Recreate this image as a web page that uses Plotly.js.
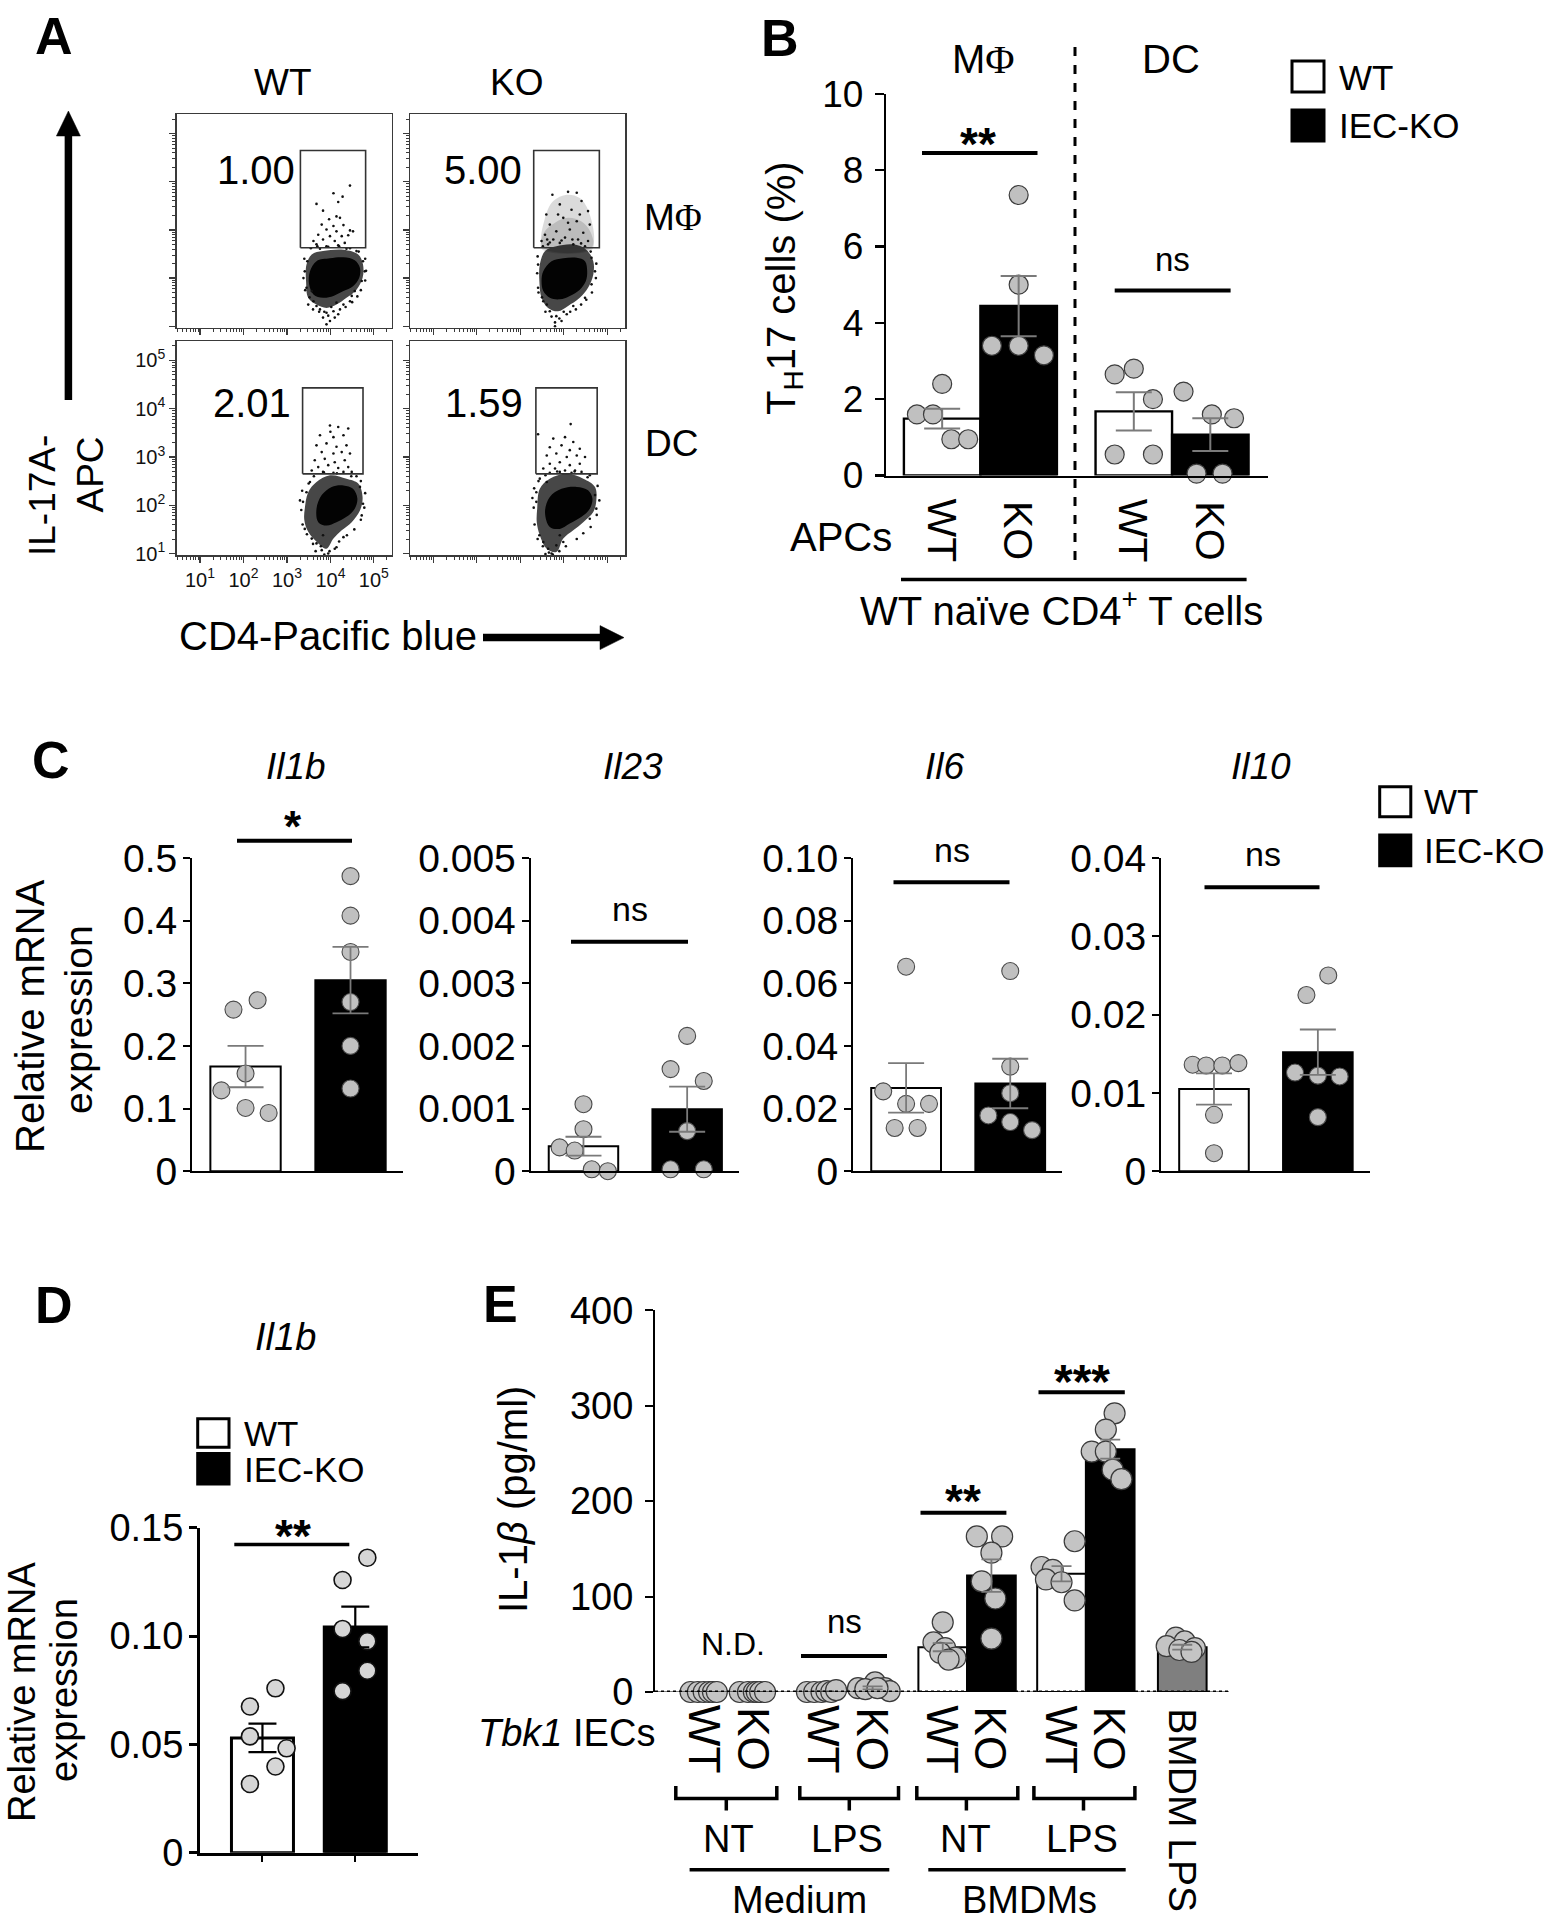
<!DOCTYPE html>
<html><head><meta charset="utf-8">
<script src="https://cdn.plot.ly/plotly-3.0.1.min.js"></script>
<style>html,body{margin:0;padding:0;background:#fff}#chart{width:1554px;height:1920px}</style>
</head><body><div id="chart"></div>
<script>
// ================= DATA =================
// ---- Panel A: flow cytometry (log10 units) ----
const flowPercent = ['1.00', '5.00', '2.01', '1.59'];
const flowLogTicks = [1, 2, 3, 4, 5];
// gates: [xmin, xmax, ymin, ymax] (log10)
const gateTL = [3.31, 4.81, 2.63, 4.65];
const gateTR = [3.31, 4.82, 2.63, 4.65];
const gateBL = [3.36, 4.75, 2.65, 4.43];
const gateBR = [3.36, 4.77, 2.65, 4.43];
// dense cores, halos and individual events
const tlCoreX = [3.53,3.68,3.99,4.30,4.56,4.68,4.66,4.52,4.30,4.07,3.83,3.61,3.51,3.53];
const tlCoreY = [2.14,2.35,2.41,2.43,2.37,2.21,2.00,1.83,1.73,1.63,1.59,1.66,1.87,2.14];
const tlHaloX = [3.45,3.57,3.83,4.30,4.64,4.75,4.74,4.60,4.37,4.14,3.91,3.68,3.49,3.44,3.45];
const tlHaloY = [2.28,2.49,2.56,2.59,2.49,2.28,2.00,1.76,1.59,1.45,1.38,1.45,1.59,1.93,2.28];
const tlDotX = [4.45,4.07,4.28,3.68,4.18,3.83,4.14,3.97,4.22,3.80,4.07,4.30,4.45,3.91,4.14,3.72,3.99,4.26,4.41,3.83,4.10,4.33,3.68,3.91,4.18,4.52,3.61,3.76,3.91,4.07,3.83,3.99,3.91,4.18,3.68,4.30,3.61,3.49,3.41,4.72,4.79,3.47,4.60,4.37,3.76,4.75,4.49,4.56,3.57,4.14,4.45,
  3.40,3.38,3.42,3.55,3.70,3.95,4.20,4.45,4.65,4.80,4.82,4.80,4.70,4.62,4.50,4.35,4.22,3.60,3.52,3.45,3.95,3.86,4.02,3.74,4.10];
const tlDotY = [3.92,3.76,3.69,3.54,3.58,3.40,3.28,3.22,3.25,3.11,3.08,3.10,2.99,3.01,2.97,2.90,2.87,2.87,2.89,2.80,2.77,2.73,2.70,2.66,2.68,2.97,2.77,1.35,1.28,1.31,1.18,1.11,1.04,1.25,1.42,1.45,1.52,1.45,2.14,1.94,2.14,2.35,2.56,2.61,2.61,2.35,1.63,1.73,1.73,1.49,1.52,
  2.40,2.00,1.75,2.62,2.66,2.65,2.66,2.62,2.55,2.40,2.15,1.95,1.75,1.62,1.50,1.40,1.35,1.35,1.60,1.80,1.22,1.30,1.40,1.30,1.18];

const trCoreX = [3.53,3.72,3.99,4.30,4.49,4.54,4.51,4.37,4.14,3.91,3.68,3.53,3.49,3.53];
const trCoreY = [2.14,2.35,2.41,2.42,2.35,2.14,1.94,1.76,1.63,1.56,1.59,1.73,1.94,2.14];
const trHaloX = [3.45,3.57,3.83,4.22,4.52,4.68,4.68,4.56,4.37,4.10,3.87,3.64,3.49,3.44,3.45];
const trHaloY = [2.28,2.56,2.66,2.70,2.59,2.35,2.07,1.80,1.59,1.42,1.31,1.38,1.59,1.94,2.28];
const trDensX = [3.53,3.57,3.76,4.07,4.37,4.60,4.64,3.53];
const trDensY = [2.63,3.25,3.60,3.73,3.66,3.32,2.63,2.63];
const trDens2X = [3.50,3.55,3.80,4.10,4.40,4.62,4.66,3.50];
const trDens2Y = [2.60,2.95,3.15,3.25,3.18,2.95,2.60,2.60];
const trDotX = [3.74,4.10,4.30,4.41,3.91,3.60,4.18,4.56,3.68,3.99,4.30,4.60,3.57,3.83,4.14,4.45,3.76,4.03,4.33,4.56,3.64,3.91,4.22,4.49,3.49,4.10,3.87,4.37,3.68,3.83,3.95,3.80,4.07,3.61,4.22,3.53,4.49,4.64,4.72,4.64,3.41,3.41,
  3.40,3.39,3.42,3.52,3.68,3.95,4.40,4.62,4.75,4.74,4.65,4.52,4.40,4.28,3.58,3.50,3.72,3.90,4.00,3.80,4.15,3.62,4.20];
const trDotY = [3.73,3.79,3.77,3.60,3.53,3.32,3.42,3.39,3.11,3.25,3.18,3.11,2.90,2.97,3.01,2.94,2.80,2.84,2.80,2.77,2.70,2.73,2.70,2.66,2.77,3.15,3.32,3.32,1.31,1.21,1.11,1.00,1.25,1.45,1.42,1.52,1.59,1.87,2.14,2.42,2.28,1.80,
  2.45,2.10,1.70,2.66,2.74,2.78,2.72,2.55,2.30,2.00,1.70,1.55,1.45,1.35,1.30,1.60,1.20,1.16,1.30,1.08,1.30,2.80,2.80];

const blCoreX = [3.68,3.80,4.03,4.30,4.52,4.62,4.56,4.37,4.14,3.91,3.72,3.68];
const blCoreY = [1.93,2.21,2.38,2.41,2.34,2.14,1.93,1.76,1.65,1.58,1.65,1.93];
const blHaloX = [3.41,3.49,3.68,3.99,4.37,4.64,4.74,4.68,4.49,4.26,4.07,3.91,3.72,3.49,3.40,3.41];
const blHaloY = [1.93,2.27,2.48,2.62,2.55,2.45,2.17,1.89,1.65,1.48,1.31,1.10,1.21,1.45,1.69,1.93];
const blDotX = [3.99,4.18,4.41,3.76,4.07,4.30,3.68,3.91,4.14,4.37,3.80,4.07,4.26,4.45,3.64,3.87,4.10,4.33,3.72,3.95,4.18,4.41,3.83,4.07,4.30,3.57,4.49,4.00,3.53,3.45,3.57,3.68,3.80,3.95,4.14,4.30,3.83,3.41,4.72,4.75,4.68,3.37,
  3.35,3.33,3.36,3.50,3.62,3.85,4.15,4.48,4.70,4.80,4.78,4.70,4.55,4.38,4.20,3.60,3.46,3.98,3.86,3.78,4.10,3.66,4.60,3.30];
const blDotY = [3.65,3.62,3.59,3.45,3.41,3.45,3.24,3.28,3.21,3.24,3.10,3.07,3.10,3.07,2.93,2.96,2.89,2.93,2.79,2.83,2.77,2.79,2.69,2.67,2.69,2.72,2.69,3.52,2.48,2.27,1.31,1.21,1.07,1.00,1.13,1.34,1.38,1.51,1.79,2.03,2.38,2.07,
  2.30,1.90,1.60,2.45,2.60,2.68,2.66,2.60,2.50,2.25,1.95,1.70,1.50,1.38,1.25,1.20,1.40,1.05,0.98,1.15,1.10,1.05,2.60,2.10];

const brCoreX = [3.57,3.68,3.95,4.30,4.56,4.66,4.60,4.41,4.14,3.91,3.68,3.57];
const brCoreY = [1.86,2.17,2.34,2.38,2.31,2.14,1.93,1.76,1.62,1.51,1.55,1.86];
const brHaloX = [3.39,3.45,3.68,4.07,4.45,4.72,4.75,4.68,4.45,4.22,3.99,3.83,3.61,3.45,3.38,3.39];
const brHaloY = [1.93,2.34,2.55,2.65,2.55,2.38,2.10,1.86,1.65,1.48,1.31,1.03,1.10,1.38,1.65,1.93];
const brDotX = [4.16,3.41,3.76,4.03,4.22,3.68,3.95,4.14,4.37,3.61,3.83,4.07,4.30,4.49,3.68,3.91,4.14,4.37,3.53,3.80,4.03,4.26,3.68,3.91,4.18,4.41,3.45,3.61,3.44,3.53,3.64,3.72,3.83,3.99,3.91,4.72,4.75,4.60,3.37,3.37,
  3.32,3.31,3.33,3.42,3.58,3.85,4.25,4.55,4.78,4.82,4.76,4.62,4.45,4.30,3.52,3.40,3.75,3.90,4.05,3.66,3.58,4.60,3.28];
const brDotY = [3.68,3.47,3.38,3.41,3.31,3.20,3.24,3.14,3.17,3.03,3.07,3.00,3.03,3.00,2.86,2.89,2.83,2.86,2.76,2.76,2.72,2.72,2.67,2.69,2.67,2.69,2.55,2.48,1.38,1.24,1.10,1.00,1.17,1.24,1.38,2.21,1.93,1.72,2.07,2.27,
  2.35,1.95,1.60,2.50,2.62,2.70,2.70,2.58,2.40,2.10,1.80,1.55,1.42,1.30,1.15,1.30,0.98,1.05,1.15,1.02,0.99,2.62,2.15];

// ---- Panel B ----
const bLabels = ['WT', 'KO', 'WT', 'KO'];
const bPos = [0, 1, 2.505, 3.505];
const bMean = [1.49, 4.44, 1.68, 1.07];
const bSem = [0.26, 0.79, 0.50, 0.43];
const bPoints = [[2.4,1.6,1.6,0.95,0.95],[7.35,5.0,3.4,3.4,3.15],[2.65,2.8,2.0,0.55,0.55],[2.2,1.6,1.5,0.05,0.05]];
const bJitter = [[0,-0.33,-0.12,0.12,0.34],[0,0,-0.35,0,0.33],[-0.25,0,0.25,-0.25,0.25],[-0.35,0.02,0.31,-0.18,0.16]];
const bTicks = [0, 2, 4, 6, 8, 10];

// ---- Panel C ----
const cGenes = ['Il1b', 'Il23', 'Il6', 'Il10'];
const cMean = [[0.167, 0.305], [0.0004, 0.00099], [0.0266, 0.0280], [0.0105, 0.0152]];
const cSem = [[0.033, 0.053], [0.00015, 0.00036], [0.0079, 0.0079], [0.0020, 0.0029]];
const cWT = [[0.258,0.273,0.156,0.129,0.101,0.093],[0.00107,0.00067,0.00038,0.00033,0.00003,0],[0.0653,0.0255,0.0215,0.0215,0.0138,0.0138],[0.0136,0.0135,0.0135,0.0138,0.0072,0.0023]];
const cWTjit = [[-0.115,0.115,0,-0.23,0,0.22],[0,0,-0.23,-0.085,0.08,0.235],[0,-0.22,0,0.22,-0.11,0.11],[-0.205,-0.075,0.08,0.235,0,0]];
const cKO = [[0.471,0.408,0.35,0.27,0.2,0.132],[0.00216,0.00163,0.00144,0.00064,0.00003,0.00003],[0.0639,0.0334,0.0249,0.0178,0.0157,0.0131],[0.0250,0.0225,0.0126,0.0122,0.0121,0.0069]];
const cKOjit = [[0,0,0,0,0,0],[0,-0.16,0.16,0,-0.16,0.16],[0,0,0,-0.21,0,0.21],[0.1,-0.11,-0.22,0,0.21,0]];
const cYmax = [0.5, 0.005, 0.10, 0.04];
const cTickVals = [[0,0.1,0.2,0.3,0.4,0.5],[0,0.001,0.002,0.003,0.004,0.005],[0,0.02,0.04,0.06,0.08,0.10],[0,0.01,0.02,0.03,0.04]];
const cTickText = [['0','0.1','0.2','0.3','0.4','0.5'],['0','0.001','0.002','0.003','0.004','0.005'],['0','0.02','0.04','0.06','0.08','0.10'],['0','0.01','0.02','0.03','0.04']];
const cSig = ['*', 'ns', 'ns', 'ns'];

// ---- Panel D ----
const dMean = [0.053, 0.1042];
const dSem = [0.0066, 0.0094];
const dWT = [0.0759,0.0675,0.0537,0.0482,0.0398,0.0317];
const dWTjit = [0.14,-0.135,-0.135,0.26,0.14,-0.135];
const dKO = [0.1362,0.1259,0.1033,0.0976,0.0840,0.0746];
const dKOjit = [0.13,-0.137,-0.137,0.13,0.13,-0.137];
const dTickVals = [0, 0.05, 0.10, 0.15];
const dTickText = ['0', '0.05', '0.10', '0.15'];

// ---- Panel E ----
const eLabels = ['WT','KO','WT','KO','WT','KO','WT','KO','BMDM LPS'];
const ePos = [0, 1, 2.44, 3.44, 4.88, 5.88, 7.32, 8.32, 9.8];
const eMean = [0, 0, 0.5, 4.3, 47, 122, 124, 254.5, 47];
const eSem = [0, 0, 0.3, 1.5, 4.3, 17, 8, 10, 2.5];
const eColor = ['#ffffff','#000000','#ffffff','#000000','#ffffff','#000000','#ffffff','#000000','#7f7f7f'];
const ePoints = [[0,0,0,0,0,0],[0,0,0,0,0,0],[0,0,0,1,0,2],[10,4,4,3,1,4],[73,52,46,41,36,34],[163,163,146,116,98,56],[158,131,128,118,115,96],[292,275,252,252,233,223],[57,53,48,46,44,42]];
const eJitter = [[-0.3,-0.15,-0.03,0.08,0.16,0.24],[-0.29,-0.12,0,0.06,0.13,0.23],[-0.35,-0.2,-0.05,0.05,0.15,0.25],[0.05,-0.3,0.25,-0.15,0.35,0.1],[0,-0.19,0.05,-0.05,0.26,0.12],[-0.3,0.22,0,-0.2,0.08,0],[0.27,-0.41,-0.18,-0.32,0,0.27],[0.09,-0.09,-0.38,-0.09,0.05,0.23],[-0.13,0.05,-0.32,0.26,-0.06,0.19]];
const eTicks = [0, 100, 200, 300, 400];

// ================= HELPERS =================
const W = 1554, H = 1920;
const FONT = 'Liberation Sans, Arial, Helvetica, sans-serif';
const PHI = '<span style="font-family:\'Liberation Serif\',\'Times New Roman\',serif">\u03A6</span>';
const fx = v => v / W;
const fy = v => 1 - v / H;
const traces = [], ann = [], shapes = [];
const layout = {width: W, height: H, margin: {l:0, r:0, t:0, b:0}, paper_bgcolor: '#fff', plot_bgcolor: 'rgba(0,0,0,0)', showlegend: false, hovermode: false, font: {family: FONT, color: '#000'}};

function T(text, x, y, size, o = {}) {
  ann.push(Object.assign({text, x: fx(x), y: fy(y), xref: 'paper', yref: 'paper', showarrow: false, xanchor: 'center', yanchor: 'middle', font: {family: FONT, size, color: '#000'}}, o));
}
function L(x0, y0, x1, y1, w, o = {}) {
  shapes.push(Object.assign({type: 'line', xref: 'paper', yref: 'paper', x0: fx(x0), y0: fy(y0), x1: fx(x1), y1: fy(y1), line: {color: '#000', width: w}}, o));
}
function R(x0, y0, x1, y1, fill, w) {
  shapes.push({type: 'rect', xref: 'paper', yref: 'paper', x0: fx(x0), y0: fy(y0), x1: fx(x1), y1: fy(y1), fillcolor: fill, line: {color: '#000', width: w}});
}
function P(pts, fill, w, close) {
  let d = '';
  pts.forEach((p, i) => { d += (p[2] || i === 0 ? 'M' : 'L') + fx(p[0]) + ',' + fy(p[1]) + ' '; });
  if (close) d += 'Z';
  shapes.push({type: 'path', xref: 'paper', yref: 'paper', path: d, fillcolor: fill || 'rgba(0,0,0,0)', line: {color: '#000', width: w}});
}
function setAx(n, xa, ya) {
  const s = n === 1 ? '' : n;
  layout['xaxis' + s] = Object.assign({anchor: 'y' + s, showgrid: false, zeroline: false, fixedrange: true}, xa);
  layout['yaxis' + s] = Object.assign({anchor: 'x' + s, showgrid: false, zeroline: false, fixedrange: true}, ya);
}
const ref = n => n === 1 ? ['x', 'y'] : ['x' + n, 'y' + n];

// ================= PANEL A =================
const minorVals = [];
for (let k = 0; k <= 5; k++) for (let m = 2; m <= 9; m++) { const v = k + Math.log10(m); if (v > 0.47 && v < 5.4) minorVals.push(v); }
const logText = flowLogTicks.map(k => '10<sup>' + k + '</sup>');
function flowAx(d0, d1, range, show) {
  return {domain: [d0, d1], range, showline: true, mirror: true, linecolor: '#3a3a3a', linewidth: 1.5,
    ticks: 'outside', ticklen: 6, tickwidth: 1.2, tickcolor: '#3a3a3a', tickmode: 'array', tickvals: flowLogTicks, ticktext: logText,
    showticklabels: show, tickfont: {family: FONT, size: 20, color: '#111'},
    minor: {tickmode: 'array', tickvals: minorVals, ticks: 'outside', ticklen: 3, tickwidth: 1, tickcolor: '#3a3a3a', showgrid: false}};
}
const fxr = [0.464, 5.41], fyr = [0.97, 5.40];
const flowBoxes = [
  {n: 1, x: [176.7, 391.7], y: [114.3, 327.7], lab: false, core: [tlCoreX, tlCoreY], halo: [tlHaloX, tlHaloY], dens: [], dots: [tlDotX, tlDotY], gate: gateTL},
  {n: 2, x: [410, 625], y: [114.3, 327.7], lab: false, core: [trCoreX, trCoreY], halo: [trHaloX, trHaloY], dens: [[trDensX, trDensY], [trDens2X, trDens2Y]], dots: [trDotX, trDotY], gate: gateTR},
  {n: 3, x: [176.7, 391.7], y: [341, 555], lab: true, core: [blCoreX, blCoreY], halo: [blHaloX, blHaloY], dens: [], dots: [blDotX, blDotY], gate: gateBL},
  {n: 4, x: [410, 625], y: [341, 555], lab: false, core: [brCoreX, brCoreY], halo: [brHaloX, brHaloY], dens: [], dots: [brDotX, brDotY], gate: gateBR}
];
flowBoxes.forEach(b => {
  setAx(b.n, flowAx(fx(b.x[0]), fx(b.x[1]), fxr, b.lab), flowAx(fy(b.y[1]), fy(b.y[0]), fyr, b.lab));
  const [xa, ya] = ref(b.n);
  b.dens.forEach(d => traces.push({type: 'scatter', mode: 'lines', x: d[0], y: d[1], fill: 'toself', fillcolor: 'rgba(0,0,0,0.14)', line: {width: 0, shape: 'spline'}, xaxis: xa, yaxis: ya}));
  traces.push({type: 'scatter', mode: 'lines', x: b.halo[0], y: b.halo[1], fill: 'toself', fillcolor: 'rgba(0,0,0,0.72)', line: {width: 0, shape: 'spline'}, xaxis: xa, yaxis: ya});
  traces.push({type: 'scatter', mode: 'lines', x: b.core[0], y: b.core[1], fill: 'toself', fillcolor: '#030303', line: {width: 0, shape: 'spline'}, xaxis: xa, yaxis: ya});
  traces.push({type: 'scatter', mode: 'markers', x: b.dots[0], y: b.dots[1], marker: {size: 2.6, color: '#111'}, xaxis: xa, yaxis: ya});
  const g = b.gate;
  traces.push({type: 'scatter', mode: 'lines', x: [g[0], g[1], g[1], g[0], g[0]], y: [g[2], g[2], g[3], g[3], g[2]], line: {color: '#333', width: 1.6}, xaxis: xa, yaxis: ya});
});
T('<b>A</b>', 54, 36, 52);
T('WT', 283, 82, 37); T('KO', 516, 82, 37);
T('M' + PHI, 673, 218, 37); T('DC', 671, 443, 37);
T(flowPercent[0], 255.5, 170, 40); T(flowPercent[1], 483.3, 170, 40);
T(flowPercent[2], 252.5, 403, 40); T(flowPercent[3], 484, 403, 40);
T('IL-17A-', 43, 496, 37, {textangle: -90});
T('APC', 90, 474.5, 37, {textangle: -90});
T('CD4-Pacific blue', 327.5, 636, 40);
L(68.4, 400, 68.4, 130, 7.5);
P([[56.4, 136], [80.4, 136], [68.4, 111]], '#000', 0.5, true);
L(483, 637.6, 603, 637.6, 7.5);
P([[600, 625.6], [600, 649.6], [624, 637.6]], '#000', 0.5, true);

// ================= PANEL B =================
setAx(5,
  {domain: [fx(886), fx(1268)], range: [-0.734, 4.259], showline: true, linewidth: 2.2, linecolor: '#000', ticks: '', showticklabels: false},
  {domain: [fy(475.5), fy(93.9)], range: [0, 10], showline: true, linewidth: 2.2, linecolor: '#000', ticks: 'outside', ticklen: 9, tickwidth: 2.2, tickcolor: '#000', tickmode: 'array', tickvals: bTicks, tickfont: {family: FONT, size: 37, color: '#000'}, ticklabelstandoff: 4});
traces.push({type: 'bar', x: bPos, y: bMean, width: 1, textposition: 'none', marker: {color: ['#fff', '#000', '#fff', '#000'], line: {color: '#000', width: 2.4}}, xaxis: 'x5', yaxis: 'y5'});
(function () {
  const px = [], py = [];
  bPoints.forEach((arr, i) => arr.forEach((v, j) => { px.push(bPos[i] + bJitter[i][j]); py.push(v); }));
  traces.push({type: 'scatter', mode: 'markers', x: px, y: py, cliponaxis: false, marker: {size: 19, color: '#c0c0c0', line: {color: '#3c3c3c', width: 1.2}}, xaxis: 'x5', yaxis: 'y5'});
})();
traces.push({type: 'scatter', mode: 'markers', x: bPos, y: bMean, marker: {size: 1, color: 'rgba(0,0,0,0)'}, error_y: {type: 'data', array: bSem, color: '#7a7a7a', thickness: 2, width: 18}, cliponaxis: false, xaxis: 'x5', yaxis: 'y5'});
T('<b>B</b>', 780, 38, 52);
T('M' + PHI, 984, 59, 40); T('DC', 1171, 59, 40);
T('<b>**</b>', 978, 144, 46);
L(922, 153, 1037.5, 153, 4);
T('ns', 1172, 260, 33);
L(1114.7, 290.6, 1230.6, 290.6, 4);
L(1075, 47, 1075, 561, 3, {line: {color: '#000', width: 3, dash: 'dash'}});
R(1292, 61, 1324, 92, '#fff', 3); T('WT', 1337, 77.5, 35, {xanchor: 'left'});
R(1292, 110, 1324, 141, '#000', 3); T('IEC-KO', 1337, 125.7, 35, {xanchor: 'left'});
bLabels.forEach((t, i) => ann.push({text: t, x: bPos[i], y: fy(530.6), xref: 'x5', yref: 'paper', showarrow: false, textangle: 90, xanchor: 'center', yanchor: 'middle', font: {family: FONT, size: 41, color: '#000'}}));
T('APCs', 841, 537, 40);
L(901, 579.6, 1246.6, 579.6, 3.5);
T('WT na\u00efve CD4<sup>+</sup> T cells', 1061.6, 608, 40);
T('T<sub>H</sub>17 cells (%)', 784, 288, 40, {textangle: -90});

// ================= PANEL C =================
const cX = [[192, 403], [530.6, 739], [853, 1062.3], [1161, 1369.8]];
const cTitleX = [296, 632.7, 945.3, 1261];
const cSigPos = [[293, 827, 237, 352, 840.7], [630, 908.7, 571, 688, 941.7], [951.8, 850.3, 893.5, 1009.5, 882.3], [1262.7, 853.7, 1204.5, 1319.5, 887.3]];
cGenes.forEach((g, k) => {
  const n = 6 + k, xa = 'x' + n, ya = 'y' + n;
  setAx(n,
    {domain: [fx(cX[k][0]), fx(cX[k][1])], range: [-0.51, 1.5], showline: true, linewidth: 2, linecolor: '#000', ticks: '', showticklabels: false},
    {domain: [fy(1171.2), fy(858)], range: [0, cYmax[k]], showline: true, linewidth: 2, linecolor: '#000', ticks: 'outside', ticklen: 7, tickwidth: 2, tickcolor: '#000', tickmode: 'array', tickvals: cTickVals[k], ticktext: cTickText[k], tickfont: {family: FONT, size: 39, color: '#000'}, ticklabelstandoff: -2});
  traces.push({type: 'bar', x: [0, 1], y: cMean[k], width: 0.67, textposition: 'none', marker: {color: ['#fff', '#000'], line: {color: '#000', width: 2}}, xaxis: xa, yaxis: ya});
  const px = [], py = [];
  cWT[k].forEach((v, j) => { px.push(0 + cWTjit[k][j]); py.push(v); });
  cKO[k].forEach((v, j) => { px.push(1 + cKOjit[k][j]); py.push(v); });
  traces.push({type: 'scatter', mode: 'markers', x: px, y: py, cliponaxis: false, marker: {size: 17, color: '#c0c0c0', line: {color: '#4a4a4a', width: 1.1}}, xaxis: xa, yaxis: ya});
  traces.push({type: 'scatter', mode: 'markers', x: [0, 1], y: cMean[k], marker: {size: 1, color: 'rgba(0,0,0,0)'}, error_y: {type: 'data', array: cSem[k], color: '#7a7a7a', thickness: 1.8, width: 18}, cliponaxis: false, xaxis: xa, yaxis: ya});
  T('<i>' + g + '</i>', cTitleX[k], 767, 37);
  const s = cSigPos[k];
  if (cSig[k] === '*') T('<b>*</b>', s[0], s[1], 44); else T(cSig[k], s[0], s[1], 34);
  L(s[2], s[4], s[3], s[4], 4);
});
T('<b>C</b>', 51, 760, 52);
R(1379.7, 786.7, 1410.8, 816.7, '#fff', 3); T('WT', 1421.7, 801.7, 35, {xanchor: 'left'});
R(1379.7, 835, 1410.8, 865.7, '#000', 3); T('IEC-KO', 1421.7, 850.3, 35, {xanchor: 'left'});
T('Relative mRNA', 30, 1016, 40, {textangle: -90});
T('expression', 78, 1020, 39, {textangle: -90});

// ================= PANEL D =================
setAx(10,
  {domain: [fx(200), fx(418.3)], range: [-0.673, 1.679], showline: true, linewidth: 3, linecolor: '#000', ticks: 'outside', ticklen: 6, tickwidth: 2, tickcolor: '#000', tickmode: 'array', tickvals: [0, 1], showticklabels: false},
  {domain: [fy(1852.7), fy(1527.8)], range: [0, 0.15], showline: true, linewidth: 3, linecolor: '#000', ticks: 'outside', ticklen: 8, tickwidth: 3, tickcolor: '#000', tickmode: 'array', tickvals: dTickVals, ticktext: dTickText, tickfont: {family: FONT, size: 38, color: '#000'}, ticklabelstandoff: -2});
traces.push({type: 'bar', x: [0, 1], y: dMean, width: 0.668, textposition: 'none', marker: {color: ['#fff', '#000'], line: {color: '#000', width: 3}}, xaxis: 'x10', yaxis: 'y10'});
(function () {
  const px = [], py = [];
  dWT.forEach((v, j) => { px.push(0 + dWTjit[j]); py.push(v); });
  dKO.forEach((v, j) => { px.push(1 + dKOjit[j]); py.push(v); });
  traces.push({type: 'scatter', mode: 'markers', x: px, y: py, cliponaxis: false, marker: {size: 17, color: '#d6d6d6', line: {color: '#111', width: 1.6}}, xaxis: 'x10', yaxis: 'y10'});
})();
traces.push({type: 'scatter', mode: 'markers', x: [0, 1], y: dMean, marker: {size: 1, color: 'rgba(0,0,0,0)'}, error_y: {type: 'data', array: dSem, color: '#000', thickness: 2.2, width: 14}, cliponaxis: false, xaxis: 'x10', yaxis: 'y10'});
T('<b>D</b>', 54, 1305, 52);
T('<i>Il1b</i>', 285, 1337, 38);
R(197.7, 1418.8, 229, 1447.3, '#fff', 3); T('WT', 241.7, 1433, 35, {xanchor: 'left'});
R(197.7, 1453.5, 229, 1484, '#000', 3); T('IEC-KO', 241.7, 1469.8, 35, {xanchor: 'left'});
T('<b>**</b>', 293.3, 1536, 46);
L(234.3, 1544.5, 349.3, 1544.5, 3.5);
T('Relative mRNA', 22, 1692, 38, {textangle: -90});
T('expression', 64, 1690, 38, {textangle: -90});

// ================= PANEL E =================
setAx(11,
  {domain: [fx(655), fx(1229)], range: [-1.03, 10.76], showline: false, ticks: '', showticklabels: false},
  {domain: [fy(1692), fy(1310.3)], range: [0, 400], showline: true, linewidth: 2, linecolor: '#000', ticks: 'outside', ticklen: 8, tickwidth: 2, tickcolor: '#000', tickmode: 'array', tickvals: eTicks, tickfont: {family: FONT, size: 38, color: '#000'}, ticklabelstandoff: 4});
traces.push({type: 'bar', x: ePos, y: eMean, width: 1, textposition: 'none', marker: {color: eColor, line: {color: '#000', width: 2}}, xaxis: 'x11', yaxis: 'y11'});
shapes.push({type: 'line', xref: 'paper', yref: 'y11', x0: fx(655), x1: fx(1229), y0: 0, y1: 0, line: {color: '#000', width: 1}});
shapes.push({type: 'line', xref: 'paper', yref: 'y11', x0: fx(655), x1: fx(1229), y0: 0, y1: 0, line: {color: '#000', width: 3, dash: 'dot'}});
(function () {
  const px = [], py = [];
  ePoints.forEach((arr, i) => arr.forEach((v, j) => { px.push(ePos[i] + eJitter[i][j]); py.push(v); }));
  traces.push({type: 'scatter', mode: 'markers', x: px, y: py, cliponaxis: false, marker: {size: 21, color: '#c4c4c4', line: {color: '#3a3a3a', width: 1.2}}, xaxis: 'x11', yaxis: 'y11'});
})();
traces.push({type: 'scatter', mode: 'markers', x: ePos, y: eMean, marker: {size: 1, color: 'rgba(0,0,0,0)'}, error_y: {type: 'data', array: eSem, color: '#7a7a7a', thickness: 1.8, width: 10}, cliponaxis: false, xaxis: 'x11', yaxis: 'y11'});
T('<b>E</b>', 500, 1304, 52);
T('IL-1<i>\u03B2</i> (pg/ml)', 513, 1500, 40, {textangle: -90});
T('N.D.', 733, 1644, 32);
T('ns', 844.5, 1621, 33); L(801, 1656, 887, 1656, 4);
T('<b>**</b>', 962.7, 1501, 46); L(920.5, 1512.7, 1006.4, 1512.7, 4);
T('<b>***</b>', 1082, 1381, 48); L(1038.5, 1392.2, 1124.8, 1392.2, 4);
T('<i>Tbk1</i> IECs', 657.4, 1733, 38, {xanchor: 'right'});
eLabels.forEach((t, i) => {
  const isLast = i === eLabels.length - 1;
  ann.push({text: t, x: ePos[i], y: fy(isLast ? 1810.6 : 1739), xref: 'x11', yref: 'paper', showarrow: false, textangle: 90, xanchor: 'center', yanchor: 'middle', font: {family: FONT, size: isLast ? 39 : 44, color: '#000'}});
});
const braces = [[675.8, 776.8, 726.3], [799.8, 898.5, 849.3], [916.8, 1017.8, 966.4], [1033.9, 1134.9, 1083.5]];
braces.forEach(b => {
  P([[b[0], 1786], [b[0], 1798.4], [b[1], 1798.4], [b[1], 1786], [b[2], 1798.4, true], [b[2], 1810.6]], null, 3.5, false);
});
T('NT', 728.6, 1839, 38); T('LPS', 847, 1839, 38); T('NT', 965, 1839, 38); T('LPS', 1082, 1839, 38);
L(689.6, 1869.8, 889.3, 1869.8, 3.5); L(928.3, 1869.8, 1125.7, 1869.8, 3.5);
T('Medium', 799.8, 1900, 38); T('BMDMs', 1029.3, 1900, 38);

layout.annotations = ann;
layout.shapes = shapes;
Plotly.newPlot('chart', traces, layout, {staticPlot: true, displayModeBar: false});
</script></body></html>
